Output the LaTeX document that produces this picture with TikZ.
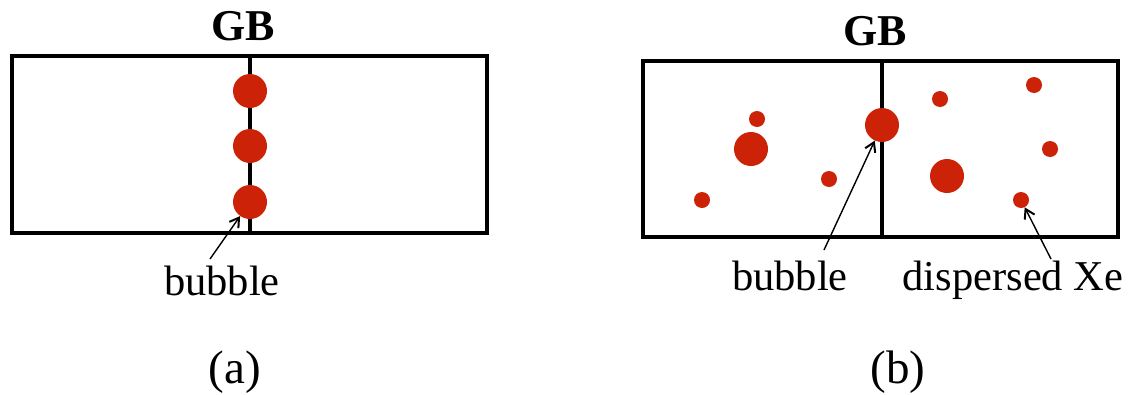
\documentclass[tikz,border=0pt]{standalone}
\usepackage{fontspec}
\setmainfont{Liberation Serif}
\usetikzlibrary{arrows.meta}
\definecolor{xered}{RGB}{204,34,8}
\tikzset{
  grain/.style={line width=3.5pt},
  gbline/.style={line width=3.5pt},
  dot/.style={circle, fill=xered, draw=none, inner sep=0pt},
  big/.style={dot, minimum size=34pt},
  small/.style={dot, minimum size=16pt},
  lbl/.style={anchor=base, inner sep=0pt, font=\fontsize{42.5}{42.5}\selectfont},
  caption/.style={anchor=base, inner sep=0pt, font=\fontsize{47}{47}\selectfont},
  gbl/.style={anchor=base, inner sep=0pt, font=\fontsize{44}{44}\selectfont\bfseries},
  pointer/.style={line width=1.4pt, -{Straight Barb[length=9pt,width=11pt,line width=2pt]}}
}
\begin{document}
\begin{tikzpicture}[x=1pt,y=-1pt]
\useasboundingbox (0,0) rectangle (1133,394);
% ---- panel (a)
\draw[grain] (12,56) rectangle (487,233);
\draw[gbline] (250,56) -- (250,233);
\node[gbl] (gba) at (243,40) {GB};
\node[big] (a1) at (250,91) {};
\node[big] (a2) at (250,146) {};
\node[big] (a3) at (250,202) {};
\node[lbl] (la) at (222,295) {bubble};
\coordinate (la0) at (210,259);
\draw[pointer] (la0) -- (a3);
\node[caption] (capa) at (235,383) {(a)};
% ---- panel (b)
\draw[grain] (643,61) rectangle (1118,237);
\draw[gbline] (882,61) -- (882,237);
\node[gbl] (gbb) at (875,45) {GB};
\node[big] (b0) at (882,125) {};
\node[small] (b1) at (757,119) {};
\node[big] (b2) at (751,149) {};
\node[small] (b3) at (829,179) {};
\node[small] (b4) at (702,200) {};
\node[small] (b5) at (940,99) {};
\node[small] (b6) at (1034,85) {};
\node[small] (b7) at (1050,149) {};
\node[big] (b8) at (947,176) {};
\node[small] (b9) at (1021,200) {};
\node[lbl] (lb) at (790,290) {bubble};
\node[lbl] (lx) at (1013,290) {dispersed Xe};
\coordinate (lb0) at (824,250);
\coordinate (lx0) at (1051,259);
\draw[pointer] (lb0) -- (b0);
\draw[pointer] (lx0) -- (b9);
\node[caption] (capb) at (898,383) {(b)};
\end{tikzpicture}
\end{document}
